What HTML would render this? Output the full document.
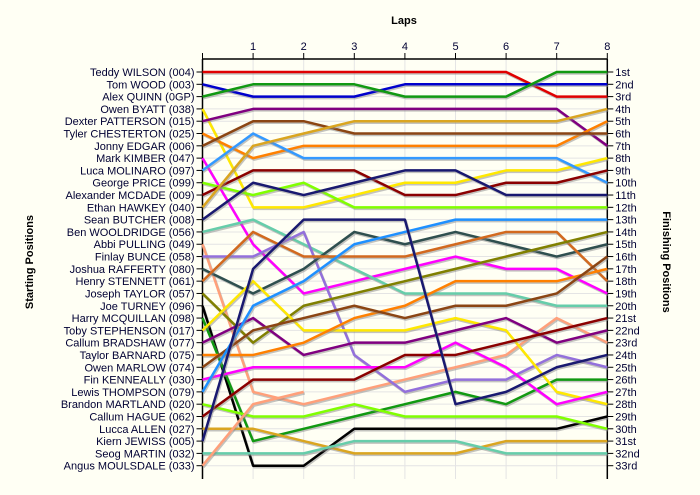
<!DOCTYPE html>
<html><head><meta charset="utf-8"><style>
body{margin:0;background:#fffff4;}
svg{display:block;font-family:"Liberation Sans",sans-serif;}
</style></head><body>
<svg id="chart" width="700" height="495" viewBox="0 0 700 495" xmlns="http://www.w3.org/2000/svg">
<rect width="700" height="495" fill="#fffff4"/>
<text x="404" y="24" text-anchor="middle" font-size="11" font-weight="bold" fill="#000">Laps</text>
<text transform="translate(33,262) rotate(-90)" text-anchor="middle" font-size="11" font-weight="bold" fill="#000">Starting Positions</text>
<text transform="translate(663,262) rotate(90)" text-anchor="middle" font-size="11" font-weight="bold" fill="#000">Finishing Positions</text>
<g id="grid"></g><g id="axes"></g><g id="lines"></g>
</svg>
<script>
const drivers=["Teddy WILSON (004)","Tom WOOD (003)","Alex QUINN (0GP)","Owen BYATT (038)","Dexter PATTERSON (015)","Tyler CHESTERTON (025)","Jonny EDGAR (006)","Mark KIMBER (047)","Luca MOLINARO (097)","George PRICE (099)","Alexander MCDADE (009)","Ethan HAWKEY (040)","Sean BUTCHER (008)","Ben WOOLDRIDGE (056)","Abbi PULLING (049)","Finlay BUNCE (058)","Joshua RAFFERTY (080)","Henry STENNETT (061)","Joseph TAYLOR (057)","Joe TURNEY (096)","Harry MCQUILLAN (098)","Toby STEPHENSON (017)","Callum BRADSHAW (077)","Taylor BARNARD (075)","Owen MARLOW (074)","Fin KENNEALLY (030)","Lewis THOMPSON (079)","Brandon MARTLAND (020)","Callum HAGUE (062)","Lucca ALLEN (027)","Kiern JEWISS (005)","Seog MARTIN (032)","Angus MOULSDALE (033)"];
const laps=[0,1,2,3,4,5,6,7,8];
const finishLabels=["1st","2nd","3rd","4th","5th","6th","7th","8th","9th","10th","11th","12th","13th","14th","15th","16th","17th","18th","19th","20th","21st","22nd","23rd","24th","25th","26th","27th","28th","29th","30th","31st","32nd","33rd"];
const positions=[
[1,1,1,1,1,1,1,3,3],
[2,3,3,3,2,2,2,2,2],
[3,2,2,2,3,3,3,1,1],
[4,12,12,11,10,10,9,9,8],
[5,4,4,4,4,4,4,4,7],
[6,8,7,7,7,7,7,7,5],
[7,5,5,6,6,6,6,6,6],
[8,15,19,18,17,16,17,17,19],
[9,6,8,8,8,8,8,8,10],
[10,11,10,12,12,12,12,12,12],
[11,9,9,9,11,11,10,10,9],
[12,7,6,5,5,5,5,5,4],
[13,10,11,10,9,9,11,11,11],
[14,13,15,17,19,19,19,20,20],
[15,27,28,27,26,25,24,21,23],
[16,16,14,24,27,26,26,24,25],
[17,19,17,14,15,14,15,16,15],
[18,14,16,16,16,15,14,14,18],
[19,23,20,19,18,17,16,15,14],
[20,33,33,30,30,30,30,30,29],
[21,31,30,29,28,27,28,26,26],
[22,18,22,22,22,21,22,27,28],
[23,21,24,23,23,22,21,23,22],
[24,24,23,21,20,18,18,18,17],
[25,22,21,20,21,20,20,19,16],
[26,25,25,25,25,23,25,28,27],
[27,20,18,15,14,13,13,13,13],
[28,29,29,28,29,29,29,29,30],
[29,26,26,26,24,24,23,22,21],
[30,30,31,32,32,32,31,31,31],
[31,17,13,13,13,28,27,25,24],
[32,32,32,31,31,31,32,32,32],
[33,28,27]
];
const colors=["#e00000","#0000cc","#119911","#ffe800","#800080","#ff8000","#8b4513","#ff00ff","#3399ff","#80ff00","#8b0000","#daa520","#191970","#66cdaa","#ffa07a","#9370db","#2f4f4f","#d2691e","#808000","#000000","#119911","#ffe800","#800080","#ff8000","#8b4513","#ff00ff","#1e90ff","#80ff00","#8b0000","#daa520","#191970","#66cdaa","#ffa07a"];
const NS="http://www.w3.org/2000/svg";
const X0=202.5,X1=607.3,Y0=72,Y1=465.7,TOP=59,BOT=479;
const xs=l=>X0+(X1-X0)*l/8;
const ys=p=>Y0+(Y1-Y0)*(p-1)/32;
function mk(tag,parent,attrs){const e=document.createElementNS(NS,tag);for(const k in attrs)e.setAttribute(k,attrs[k]);parent.appendChild(e);return e;}
const grid=document.getElementById('grid'),axes=document.getElementById('axes'),lines=document.getElementById('lines');
for(let p=1;p<=33;p++){const g=mk('line',grid,{x1:X0,x2:X1,y1:ys(p),y2:ys(p),stroke:'#e4e4e4','stroke-width':1});

}
laps.forEach(l=>{if(l>0){const g=mk('line',grid,{x1:xs(l),x2:xs(l),y1:TOP,y2:BOT,stroke:'#e4e4e4','stroke-width':1});

}});
const a1=mk('line',axes,{x1:X0,x2:X1,y1:TOP,y2:TOP,stroke:'#000','stroke-width':1.5});


const a2=mk('line',axes,{x1:X0,x2:X0,y1:TOP,y2:BOT,stroke:'#000','stroke-width':1.5});


const a3=mk('line',axes,{x1:X1,x2:X1,y1:TOP,y2:BOT,stroke:'#000','stroke-width':1.5});


laps.forEach(l=>{mk('line',axes,{x1:xs(l),x2:xs(l),y1:TOP-6,y2:TOP,stroke:'#000'});
if(l>0){const t=mk('text',axes,{x:xs(l),y:TOP-9,'text-anchor':'middle','font-size':11,fill:'#000033'});t.textContent=l;

}});
drivers.forEach((d,i)=>{const y=ys(i+1);mk('line',axes,{x1:X0-6,x2:X0,y1:y,y2:y,stroke:'#000'});
const t=mk('text',axes,{x:X0-8,y:y+4,'text-anchor':'end','font-size':11,fill:'#000033'});t.textContent=d;

});
finishLabels.forEach((f,i)=>{const y=ys(i+1);mk('line',axes,{x1:X1,x2:X1+6,y1:y,y2:y,stroke:'#000'});
const t=mk('text',axes,{x:X1+8,y:y+4,'font-size':11,fill:'#000033'});t.textContent=f;

});
positions.forEach((ps,i)=>{const pts=ps.map((p,l)=>xs(l)+','+ys(p)).join(' ');
const sh=mk('polyline',lines,{points:pts,fill:'none',stroke:'#888','stroke-opacity':0.5,'stroke-width':2.5,transform:'translate(1,1.5)','stroke-linejoin':'round'});


const pl=mk('polyline',lines,{points:pts,fill:'none',stroke:colors[i],'stroke-width':2.5,'stroke-linejoin':'round'});

});
</script>
</body></html>
